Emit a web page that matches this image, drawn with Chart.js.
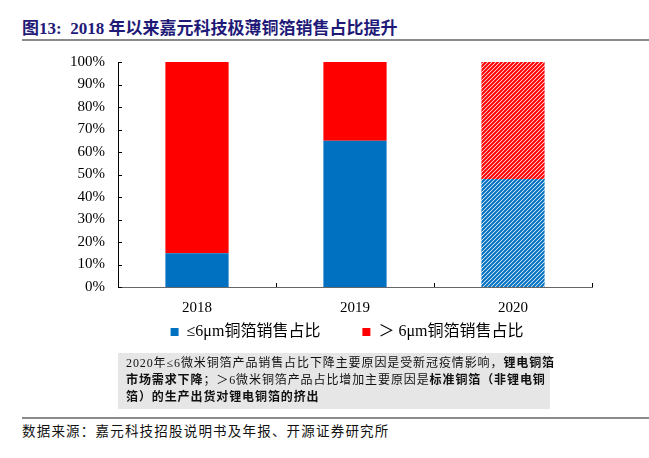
<!DOCTYPE html>
<html>
<head>
<meta charset="utf-8">
<script src="https://cdn.jsdelivr.net/npm/chart.js@4.4.1/dist/chart.umd.min.js"></script>
<style>
  html, body { margin: 0; padding: 0; background: #fff; }
  #page { position: relative; width: 649px; height: 458px; overflow: hidden; font-family: "Liberation Serif", "Noto Sans CJK SC", serif; }
  #title { position: absolute; left: 22px; top: 14px; font-size: 17px; font-weight: bold; color: #1f1a78; letter-spacing: 0px; white-space: nowrap; }
  .rule { position: absolute; left: 22px; right: 0; height: 2px; background: #8a8a8a; }
  #chartBox { position: absolute; left: 0; top: 0; width: 649px; height: 355px; }
  #note { position: absolute; left: 118px; top: 353px; width: 424px; height: 52px; padding: 2px 0 2px 8px; background: #e6e6e6; font-size: 12px; line-height: 17px; color: #111; letter-spacing: 0.9px; white-space: nowrap; }
  #note b { font-weight: bold; }
  #source { position: absolute; left: 22px; top: 420px; font-size: 13.5px; color: #111; letter-spacing: 1.2px; white-space: nowrap; }
</style>
</head>
<body>
<div id="page">
  <div id="title">图13:&nbsp; 2018 年以来嘉元科技极薄铜箔销售占比提升</div>
  <div class="rule" style="top:39px"></div>
  <div id="chartBox"><canvas id="chart"></canvas></div>
  <div id="note">2020年≤6微米铜箔产品销售占比下降主要原因是受新冠疫情影响，<b>锂电铜箔</b><br><b>市场需求下降</b>；＞6微米铜箔产品占比增加主要原因是<b>标准铜箔（非锂电铜</b><br><b>箔）的生产出货对锂电铜箔的挤出</b></div>
  <div class="rule" style="top:417px"></div>
  <div id="source">数据来源：嘉元科技招股说明书及年报、开源证券研究所</div>
</div>
<script>
// --- datos ---
const years = ['2018', '2019', '2020'];
const thinShare = [15, 65, 48];   // ≤6μm
const thickShare = [85, 35, 52];  // >6μm
const seriesNames = ['≤6μm铜箔销售占比\u3000\u3000', '＞ 6μm铜箔销售占比'];
const yTicks = [0, 10, 20, 30, 40, 50, 60, 70, 80, 90, 100];
const estimated = [false, false, true]; // 2020 drawn hatched

const BLUE = '#0070c0';
const RED = '#ff0000';

// diagonal hatch for the 2020 bar
function hatch(color) {
    const c = document.createElement('canvas');
    c.width = 4; c.height = 4;
    const g = c.getContext('2d');
    g.strokeStyle = color;
    g.lineWidth = 2.1;
    g.beginPath();
    g.moveTo(-1, 5); g.lineTo(5, -1);
    g.moveTo(-1, 1); g.lineTo(1, -1);
    g.moveTo(3, 5); g.lineTo(5, 3);
    g.stroke();
    return g.createPattern(c, 'repeat');
}

const fills = (color) => estimated.map(e => e ? hatch(color) : color);

// small inward tick marks like the original
const innerTicks = {
    id: 'innerTicks',
    afterDraw(chart) {
        const { ctx, chartArea: a, scales } = chart;
        ctx.save();
        ctx.strokeStyle = '#000';
        ctx.lineWidth = 1;
        ctx.beginPath();
        yTicks.forEach(v => {
            const y = Math.round(scales.y.getPixelForValue(v)) + 0.5;
            ctx.moveTo(a.left, y); ctx.lineTo(a.left + 4, y);
        });
        for (let i = 0; i <= years.length; i++) {
            const x = Math.round(scales.x.getPixelForValue(i - 0.5)) + 0.5;
            ctx.moveTo(x, a.bottom); ctx.lineTo(x, a.bottom - 4);
        }
        ctx.stroke();
        ctx.restore();
    }
};

// legend sits a bit right of the canvas centre in the original
const legendShift = {
    id: 'legendShift',
    afterLayout(chart) {
        if (chart.legend) chart.legend.left += 102;
    }
};

new Chart(document.getElementById('chart'), {
    type: 'bar',
    data: {
        labels: years,
        datasets: [
            { label: seriesNames[0], data: thinShare, backgroundColor: fills(BLUE), borderWidth: 0, barPercentage: 0.4, categoryPercentage: 1 },
            { label: seriesNames[1], data: thickShare, backgroundColor: fills(RED), borderWidth: 0, barPercentage: 0.4, categoryPercentage: 1 }
        ]
    },
    options: {
        responsive: true,
        maintainAspectRatio: false,
        animation: false,
        layout: { padding: { top: 62, right: 57, left: 0, bottom: 5 } },
        plugins: {
            tooltip: { enabled: false },
            legend: {
                position: 'bottom',
                labels: {
                    generateLabels: () => seriesNames.map((n, i) => ({
                        text: n, fillStyle: i ? RED : BLUE, strokeStyle: i ? RED : BLUE, lineWidth: 0, datasetIndex: i
                    })),
                    boxWidth: 8, boxHeight: 8, padding: 10,
                    color: '#000',
                    font: { family: '"Liberation Serif", "Noto Sans CJK SC"', size: 16 }
                }
            }
        },
        scales: {
            x: {
                stacked: true,
                grid: { display: false, drawTicks: false },
                border: { color: '#666', width: 1 },
                ticks: { color: '#000', padding: 12, font: { family: '"Liberation Serif"', size: 15 } },
                afterFit: s => { s.height = 27; }
            },
            y: {
                stacked: true,
                min: 0, max: 100,
                grid: { display: false, drawTicks: false },
                border: { color: '#000', width: 1 },
                afterBuildTicks: s => { s.ticks = yTicks.map(v => ({ value: v })); },
                ticks: { autoSkip: false, color: '#000', padding: 13, callback: v => v + '%', font: { family: '"Liberation Serif"', size: 15 } },
                afterFit: s => { s.width = 118; }
            }
        }
    },
    plugins: [innerTicks, legendShift]
});
</script>
</body>
</html>
